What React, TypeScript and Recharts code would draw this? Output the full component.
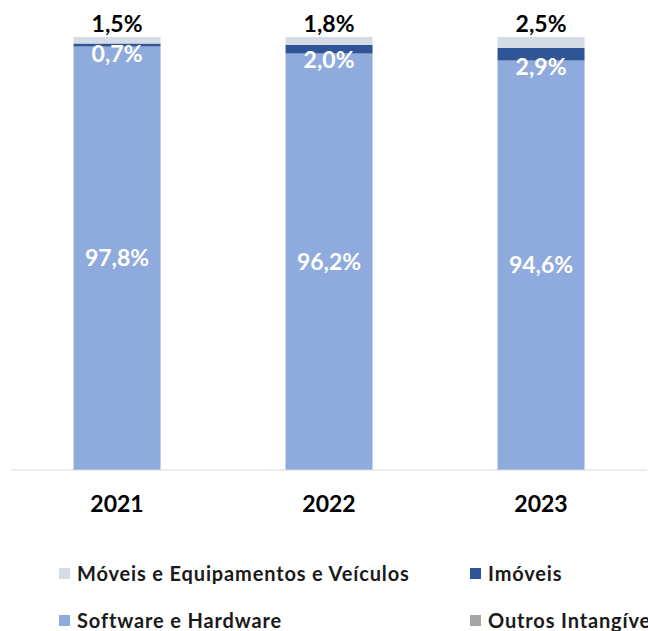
import React from 'react';
import { BarChart, Bar, XAxis, YAxis, Legend, LabelList } from 'recharts';

const years = ['2021', '2022', '2023'];
const software = [97.8, 96.2, 94.6];
const imoveis = [0.7, 2.0, 2.9];
const moveis = [1.5, 1.8, 2.5];
const outros = [0, 0, 0];

const SERIES = [
  { key: 'software', name: 'Software e Hardware', color: '#8FAADC' },
  { key: 'imoveis', name: 'Imóveis', color: '#2F5597' },
  { key: 'moveis', name: 'Móveis e Equipamentos e Veículos', color: '#D6DCE5' },
  { key: 'outros', name: 'Outros Intangíveis', color: '#A5A5A5' },
];

// legend order as in the picture (2 rows x 2 columns)
const LEGEND_ORDER = ['moveis', 'imoveis', 'software', 'outros'];

const FONT = 'Lato, "Open Sans", sans-serif';

const data = years.map((year, i) => ({
  year,
  software: software[i],
  imoveis: imoveis[i],
  moveis: moveis[i],
  outros: outros[i],
}));

const fmt = (v: any) => `${Number(v).toFixed(1).replace('.', ',')}%`;

const ImoveisLabel = (props: any) => {
  const { x, y, width, height, value } = props;
  return (
    <text
      x={x + width / 2}
      y={y + height + 6}
      fill="#fff"
      fontSize={23}
      fontWeight={700}
      fontFamily={FONT}
      textAnchor="middle"
      dominantBaseline="central"
    >
      {fmt(value)}
    </text>
  );
};

const LegendBox = () => (
  <div
    style={{
      display: 'grid',
      gridTemplateColumns: '411px 178px',
      rowGap: 25,
      paddingLeft: 59,
      fontFamily: FONT,
      fontSize: 20,
      fontWeight: 700,
      letterSpacing: 0.85,
      color: '#1a1a1a',
      whiteSpace: 'nowrap',
      width: 589,
    }}
  >
    {LEGEND_ORDER.map(k => {
      const s = SERIES.find(x => x.key === k)!;
      return (
        <div key={k} style={{ display: 'flex', alignItems: 'center', height: 22, overflow: 'hidden' }}>
          <span style={{ flex: 'none', display: 'inline-block', width: 11, height: 11, background: s.color, marginRight: 7 }} />
          <span>{s.name}</span>
        </div>
      );
    })}
  </div>
);

export default function App() {
  return (
    <div style={{ position: 'absolute', left: 0, top: 0, width: 648, height: 631, background: '#fff', overflow: 'hidden' }}>
      <BarChart
        width={648}
        height={631}
        data={data}
        margin={{ top: 37, right: 1, left: 11, bottom: 0 }}
        barCategoryGap="29.5%"
      >
        <XAxis
          dataKey="year"
          height={161}
          tickLine={false}
          axisLine={{ stroke: '#D9D9D9', strokeWidth: 1 }}
          tickMargin={20}
          tick={{ fill: '#000', fontSize: 23, fontWeight: 700, fontFamily: FONT }}
        />
        <YAxis hide domain={[0, 100]} />
        <Legend
          verticalAlign="middle"
          layout="horizontal"
          content={() => <LegendBox />}
          wrapperStyle={{ top: 562, left: 0, width: 648 }}
        />
        <Bar dataKey="software" name="Software e Hardware" stackId="a" fill="#8FAADC" isAnimationActive={false}>
          <LabelList
            dataKey="software"
            position="center"
            formatter={fmt}
            fill="#fff"
            fontSize={23}
            fontWeight={700}
            fontFamily={FONT}
          />
        </Bar>
        <Bar dataKey="imoveis" name="Imóveis" stackId="a" fill="#2F5597" isAnimationActive={false}>
          <LabelList dataKey="imoveis" content={<ImoveisLabel />} />
        </Bar>
        <Bar dataKey="moveis" name="Móveis e Equipamentos e Veículos" stackId="a" fill="#D6DCE5" isAnimationActive={false}>
          <LabelList
            dataKey="moveis"
            position="top"
            offset={5}
            formatter={fmt}
            fill="#000"
            fontSize={23}
            fontWeight={700}
            fontFamily={FONT}
          />
        </Bar>
        <Bar dataKey="outros" name="Outros Intangíveis" stackId="a" fill="#A5A5A5" isAnimationActive={false} />
      </BarChart>
    </div>
  );
}
